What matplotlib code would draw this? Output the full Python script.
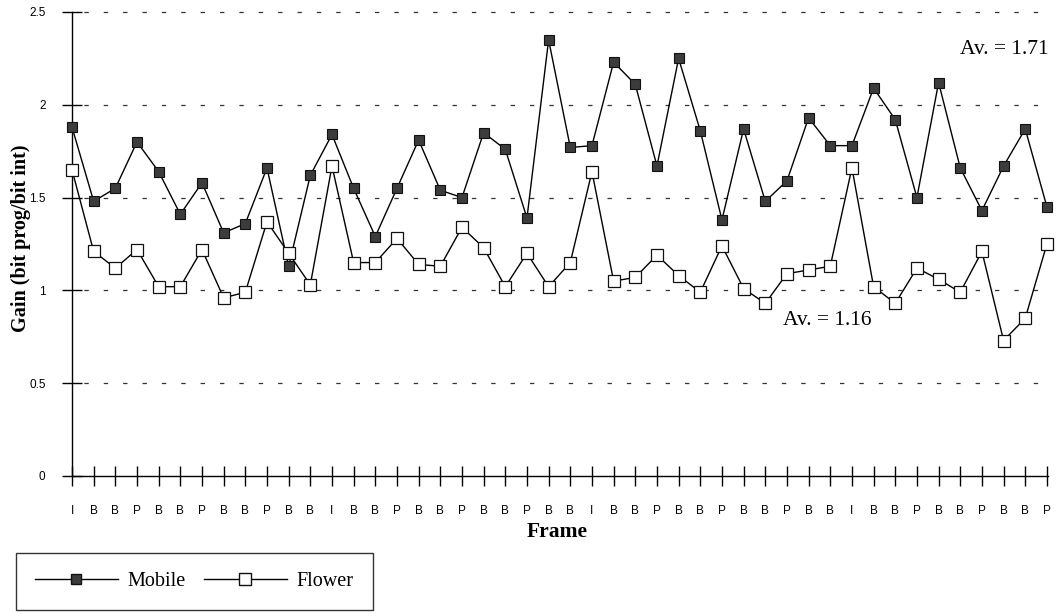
import matplotlib
matplotlib.use('Agg')
import matplotlib.pyplot as plt
from matplotlib.lines import Line2D

serif = 'Liberation Serif'
sans = 'Liberation Sans'
plt.rcParams['font.family'] = [serif, 'DejaVu Serif']

# frame types, one per coded picture
frames = list('IBBPBBPBBPBB' * 3 + 'IBBPBBPBBP')

mobile = [1.88, 1.48, 1.55, 1.80, 1.64, 1.41, 1.58, 1.31, 1.36, 1.66, 1.13, 1.62,
          1.84, 1.55, 1.29, 1.55, 1.81, 1.54, 1.50, 1.85, 1.76, 1.39, 2.35, 1.77,
          1.78, 2.23, 2.11, 1.67, 2.25, 1.86, 1.38, 1.87, 1.48, 1.59, 1.93, 1.78,
          1.78, 2.09, 1.92, 1.50, 2.12, 1.66, 1.43, 1.67, 1.87, 1.45]
flower = [1.65, 1.21, 1.12, 1.22, 1.02, 1.02, 1.22, 0.96, 0.99, 1.37, 1.20, 1.03,
          1.67, 1.15, 1.15, 1.28, 1.14, 1.13, 1.34, 1.23, 1.02, 1.20, 1.02, 1.15,
          1.64, 1.05, 1.07, 1.19, 1.08, 0.99, 1.24, 1.01, 0.93, 1.09, 1.11, 1.13,
          1.66, 1.02, 0.93, 1.12, 1.06, 0.99, 1.21, 0.73, 0.85, 1.25]

yticks = [0, 0.5, 1, 1.5, 2, 2.5]
ytick_labels = ['0', '0.5', '1', '1.5', '2', '2.5']

fig = plt.figure(figsize=(10.56, 6.14), dpi=100)
ax = fig.add_axes([72/1056, 1-476/614, 976/1056, 464/614])

x = list(range(len(frames)))

# dashed grid
for v in yticks[1:]:
    ax.plot([0, 45], [v, v], color='#333333', lw=0.9, ls=(6, (3.5, 12)), zorder=1, clip_on=False)

ax.plot(x, mobile, color='black', lw=1.0, marker='s', ms=7.5, mfc='#3c3c3c',
        mec='#111111', mew=0.8, zorder=3, clip_on=False)
ax.plot(x, flower, color='black', lw=1.0, marker='s', ms=9, mfc='white',
        mec='#111111', mew=0.9, zorder=3, clip_on=False)

ax.set_xlim(0, 45.05)
ax.set_ylim(0, 2.5)
for s in ['top', 'right']:
    ax.spines[s].set_visible(False)
ax.spines['left'].set_linewidth(1.0)
ax.spines['bottom'].set_linewidth(1.0)

ax.set_xticks(x)
ax.set_xticklabels(frames, fontfamily=sans, fontsize=8.5)
ax.set_yticks(yticks)
ax.set_yticklabels(ytick_labels, fontfamily=sans, fontsize=8.5)
ax.tick_params(axis='x', direction='inout', length=14, width=1.0, pad=14)
ax.tick_params(axis='y', direction='inout', length=14, width=1.0, pad=12)

ax.text(45.1, 2.30, 'Av. = 1.71', fontsize=15.5, ha='right', va='center')
ax.text(32.8, 0.84, 'Av. = 1.16', fontsize=15.5, ha='left', va='center')

fig.text(21/1056, 1-238/614, 'Gain (bit prog/bit int)', fontsize=14.5,
         fontweight='bold', rotation=90, ha='center', va='center')
fig.text(557/1056, 1-532/614, 'Frame', fontsize=15.5,
         fontweight='bold', ha='center', va='center')

handles = [
    Line2D([], [], color='black', lw=1.0, marker='s', ms=7, mfc='#3c3c3c', mec='#111111'),
    Line2D([], [], color='black', lw=1.0, marker='s', ms=8.5, mfc='white', mec='#111111'),
]
leg = fig.legend(handles, ['Mobile', 'Flower'], loc='upper left',
                 bbox_to_anchor=(16/1056, 1-553/614), borderaxespad=0,
                 ncol=2, frameon=True, fancybox=False, edgecolor='black',
                 handlelength=4.1, handletextpad=0.5, columnspacing=0.9,
                 borderpad=0.95, fontsize=14.5)
leg.get_frame().set_linewidth(1.0)

fig.savefig('out.png', dpi=100)
